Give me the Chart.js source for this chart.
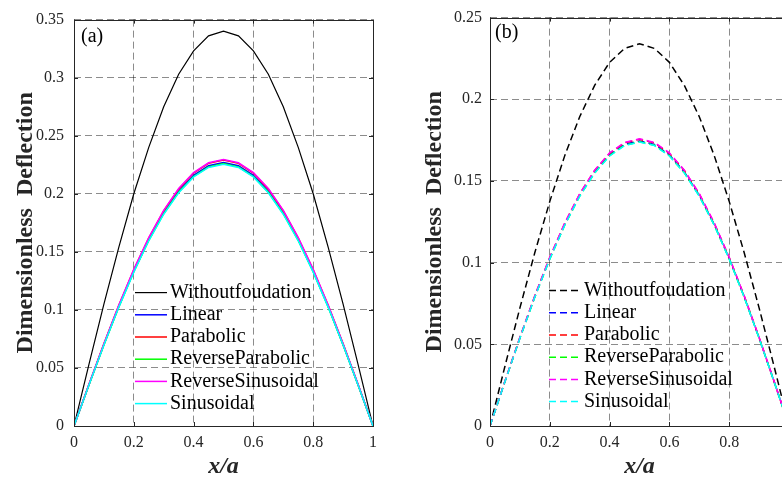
<!DOCTYPE html>
<html>
<head>
<meta charset="utf-8">
<script src="https://cdn.jsdelivr.net/npm/chart.js@4.4.0/dist/chart.umd.min.js"></script>
<style>
    html, body { margin: 0; padding: 0; background: #fff; overflow: hidden; width: 782px; height: 477px; }
    #wrapA { position: absolute; left: 0; top: 0; width: 390px; height: 477px; }
    #wrapB { position: absolute; left: 390px; top: 0; width: 410px; height: 477px; }
</style>
</head>
<body>
<div id="wrapA"><canvas id="chartA" width="390" height="477"></canvas></div>
<div id="wrapB"><canvas id="chartB" width="410" height="477"></canvas></div>
<script>
    // x/a positions
    var xs = [0, 0.05, 0.1, 0.15, 0.2, 0.25, 0.3, 0.35, 0.4, 0.45, 0.5,
              0.55, 0.6, 0.65, 0.7, 0.75, 0.8, 0.85, 0.9, 0.95, 1];

    var names = ['Withoutfoudation', 'Linear', 'Parabolic', 'ReverseParabolic', 'ReverseSinusoidal', 'Sinusoidal'];
    var colors = ['#000000', '#0000ff', '#ff0000', '#00ff00', '#ff00ff', '#00ffff'];

    var yTicksA = [0, 0.05, 0.1, 0.15, 0.2, 0.25, 0.3, 0.35];
    var yTicksB = [0, 0.05, 0.1, 0.15, 0.2, 0.25];

    // panel (a)
    var aWithout = [0, 0.053, 0.105, 0.154, 0.200, 0.240, 0.275, 0.303, 0.323, 0.336, 0.340,
                    0.336, 0.323, 0.303, 0.275, 0.240, 0.200, 0.154, 0.105, 0.053, 0];
    var aLinear = [0, 0.0355, 0.0701, 0.1031, 0.1334, 0.1605, 0.1836, 0.2023, 0.2159, 0.2242, 0.2270,
                   0.2242, 0.2159, 0.2023, 0.1836, 0.1605, 0.1334, 0.1031, 0.0701, 0.0355, 0];
    var aParabolic = [0, 0.0358, 0.0708, 0.1040, 0.1346, 0.1619, 0.1853, 0.2040, 0.2178, 0.2262, 0.2290,
                      0.2262, 0.2178, 0.2040, 0.1853, 0.1619, 0.1346, 0.1040, 0.0708, 0.0358, 0];
    var aRevParabolic = [0, 0.0353, 0.0698, 0.1026, 0.1328, 0.1598, 0.1828, 0.2014, 0.2149, 0.2232, 0.2260,
                         0.2232, 0.2149, 0.2014, 0.1828, 0.1598, 0.1328, 0.1026, 0.0698, 0.0353, 0];
    var aRevSinusoidal = [0, 0.0359, 0.0709, 0.1042, 0.1349, 0.1623, 0.1857, 0.2045, 0.2183, 0.2267, 0.2295,
                          0.2267, 0.2183, 0.2045, 0.1857, 0.1623, 0.1349, 0.1042, 0.0709, 0.0359, 0];
    var aSinusoidal = [0, 0.0353, 0.0697, 0.1024, 0.1325, 0.1595, 0.1824, 0.2009, 0.2145, 0.2227, 0.2255,
                       0.2227, 0.2145, 0.2009, 0.1824, 0.1595, 0.1325, 0.1024, 0.0697, 0.0353, 0];

    // panel (b)
    var bWithout = [0, 0.0366, 0.0723, 0.1062, 0.1375, 0.1655, 0.1893, 0.2085, 0.2226, 0.2311, 0.2340,
                    0.2311, 0.2226, 0.2085, 0.1893, 0.1655, 0.1375, 0.1062, 0.0723, 0.0366, 0];
    var bLinear = [0, 0.0273, 0.0539, 0.0792, 0.1026, 0.1234, 0.1412, 0.1555, 0.1660, 0.1724, 0.1745,
                   0.1724, 0.1660, 0.1555, 0.1412, 0.1234, 0.1026, 0.0792, 0.0539, 0.0273, 0];
    var bParabolic = [0, 0.0274, 0.0542, 0.0797, 0.1032, 0.1241, 0.1420, 0.1564, 0.1669, 0.1733, 0.1755,
                      0.1733, 0.1669, 0.1564, 0.1420, 0.1241, 0.1032, 0.0797, 0.0542, 0.0274, 0];
    var bRevParabolic = [0, 0.0272, 0.0538, 0.0790, 0.1023, 0.1230, 0.1408, 0.1550, 0.1655, 0.1719, 0.1740,
                         0.1719, 0.1655, 0.1550, 0.1408, 0.1230, 0.1023, 0.0790, 0.0538, 0.0272, 0];
    var bRevSinusoidal = [0, 0.0275, 0.0543, 0.0798, 0.1033, 0.1243, 0.1422, 0.1566, 0.1672, 0.1736, 0.1758,
                          0.1736, 0.1672, 0.1566, 0.1422, 0.1243, 0.1033, 0.0798, 0.0543, 0.0275, 0];
    var bSinusoidal = [0, 0.0272, 0.0537, 0.0789, 0.1022, 0.1229, 0.1406, 0.1549, 0.1653, 0.1717, 0.1738,
                       0.1717, 0.1653, 0.1549, 0.1406, 0.1229, 0.1022, 0.0789, 0.0537, 0.0272, 0];

    var serif = '"Liberation Serif", "Times New Roman", serif';
    var axisColor = '#262626';
    var gridColor = 'rgba(0,0,0,0.45)';

    // MATLAB-style tick text: 0.3 not 0.30, 1 not 1.0
    function plainTick(v) {
        return String(Number(Number(v).toFixed(3)));
    }

    // box, inward ticks, panel tag and in-plot legend
    var panelDeco = {
        id: 'panelDeco',
        afterDraw: function (chart, args, o) {
            var ctx = chart.ctx, a = chart.chartArea;
            var sx = chart.scales.x, sy = chart.scales.y;
            ctx.save();
            ctx.strokeStyle = axisColor;
            ctx.lineWidth = 1;
            ctx.setLineDash([]);
            ctx.strokeRect(Math.round(a.left) + 0.5, Math.round(a.top) + 0.5,
                           Math.round(a.right - a.left), Math.round(a.bottom - a.top));
            ctx.beginPath();
            sx.ticks.forEach(function (t) {
                var px = Math.round(sx.getPixelForValue(t.value)) + 0.5;
                ctx.moveTo(px, a.bottom); ctx.lineTo(px, a.bottom - 4);
                ctx.moveTo(px, a.top); ctx.lineTo(px, a.top + 4);
            });
            sy.ticks.forEach(function (t) {
                var py = Math.round(sy.getPixelForValue(t.value)) + 0.5;
                ctx.moveTo(a.left, py); ctx.lineTo(a.left + 4, py);
                ctx.moveTo(a.right, py); ctx.lineTo(a.right - 4, py);
            });
            ctx.stroke();

            ctx.fillStyle = '#000';
            ctx.textBaseline = 'middle';
            ctx.font = '20px ' + serif;
            ctx.fillText(o.tag, a.left + o.tagDx, a.top + o.tagDy);

            chart.data.datasets.forEach(function (ds, i) {
                var y = a.top + o.legendTop + i * 22.2;
                var x0 = a.left + o.legendLeft;
                ctx.strokeStyle = ds.borderColor;
                ctx.lineWidth = ds.borderWidth;
                ctx.setLineDash(ds.borderDash || []);
                ctx.beginPath();
                ctx.moveTo(x0, y); ctx.lineTo(x0 + 32, y);
                ctx.stroke();
                ctx.setLineDash([]);
                ctx.fillText(ds.label, x0 + 35, y);
            });
            ctx.restore();
        }
    };

    function makeChart(id, p) {
        var datasets = names.map(function (n, i) {
            return {
                label: n,
                data: xs.map(function (x, j) { return { x: x, y: p.series[i][j] }; }),
                borderColor: colors[i],
                borderWidth: p.widths[i],
                borderDash: p.dash,
                pointRadius: 0,
                tension: 0,
                fill: false,
                order: names.length - i
            };
        });
        return new Chart(document.getElementById(id), {
            type: 'line',
            data: { datasets: datasets },
            options: {
                responsive: false,
                animation: false,
                devicePixelRatio: 1,
                layout: { padding: { left: 0, top: 15, right: p.padRight, bottom: 0 } },
                plugins: {
                    legend: { display: false },
                    tooltip: { enabled: false },
                    panelDeco: { tag: p.tag, tagDx: p.tagDx, tagDy: p.tagDy, legendLeft: p.legendLeft, legendTop: 273 }
                },
                scales: {
                    x: {
                        type: 'linear',
                        min: 0,
                        max: 1,
                        afterFit: function (s) { s.height = 51; },
                        grid: { color: gridColor, drawTicks: false, lineWidth: 1 },
                        border: { display: false, dash: [7, 4] },
                        ticks: { stepSize: 0.2, padding: 7, color: axisColor, font: { family: serif, size: 16 }, callback: plainTick },
                        title: {
                            display: true,
                            text: 'x/a',
                            color: axisColor,
                            font: { family: serif, size: 24, weight: 'bold', style: 'italic', lineHeight: 0.85 },
                            padding: { top: 0, bottom: 0 }
                        }
                    },
                    y: {
                        type: 'linear',
                        min: 0,
                        max: p.yMax,
                        afterFit: function (s) { s.width = p.yWidth; },
                        afterBuildTicks: function (s) { s.ticks = p.yTicks.map(function (v) { return { value: v }; }); },
                        grid: { color: gridColor, drawTicks: false, lineWidth: 1 },
                        border: { display: false, dash: [7, 4] },
                        ticks: { padding: p.yTickPad, color: axisColor, font: { family: serif, size: 16 }, callback: plainTick },
                        title: {
                            display: true,
                            text: 'Dimensionless  Deflection',
                            color: axisColor,
                            font: { family: serif, size: 24, weight: 'bold', lineHeight: 1 },
                            padding: { top: p.yTitlePad, bottom: 0 }
                        }
                    }
                }
            },
            plugins: [panelDeco]
        });
    }

    makeChart('chartA', {
        series: [aWithout, aLinear, aParabolic, aRevParabolic, aRevSinusoidal, aSinusoidal],
        widths: [1.2, 1.5, 1.5, 1.5, 1.5, 1.5],
        dash: [],
        yMax: 0.35,
        yTicks: yTicksA,
        yWidth: 74,
        yTickPad: 10,
        yTitlePad: 14,
        padRight: 17,
        tag: '(a)',
        tagDx: 7,
        tagDy: 17,
        legendLeft: 61
    });

    makeChart('chartB', {
        series: [bWithout, bLinear, bParabolic, bRevParabolic, bRevSinusoidal, bSinusoidal],
        widths: [1.5, 1.5, 1.5, 1.5, 1.5, 1.5],
        dash: [7, 4],
        yMax: 0.25,
        yTicks: yTicksB,
        yWidth: 100,
        yTickPad: 8,
        yTitlePad: 33,
        padRight: 11,
        tag: '(b)',
        tagDx: 5,
        tagDy: 15,
        legendLeft: 59
    });
</script>
</body>
</html>
